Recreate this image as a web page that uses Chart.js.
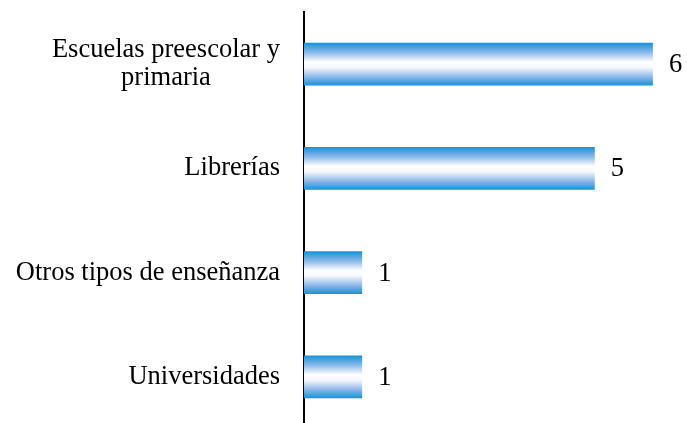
<!DOCTYPE html>
<html lang="es">
<head>
<meta charset="UTF-8">
<title>Establecimientos</title>
<style>
  body { margin: 0; background: #ffffff; overflow: hidden; }
  .frame { position: relative; width: 687px; height: 432px; }
</style>
</head>
<body>
<div class="frame">
  <canvas id="barChart"></canvas>
</div>
<script src="https://cdn.jsdelivr.net/npm/chart.js"></script>
<script>
  var categories = [['Escuelas preescolar y', 'primaria'], 'Librerías', 'Otros tipos de enseñanza', 'Universidades'];
  var values = [6, 5, 1, 1];

  var labelFont = '26.5px "Liberation Serif", "Times New Roman", serif';

  // vertical blue-white-blue fade for each bar
  function barFill(context) {
    var chart = context.chart;
    if (!chart.chartArea || !chart.scales.y) return '#1590d8';
    var yScale = chart.scales.y;
    var center = yScale.getPixelForValue(context.dataIndex);
    var half = 21.5;
    var g = chart.ctx.createLinearGradient(0, center - half, 0, center + half);
    g.addColorStop(0, '#1590d8');
    g.addColorStop(0.22, '#86b6e8');
    g.addColorStop(0.45, '#ffffff');
    g.addColorStop(0.58, '#f4f7fd');
    g.addColorStop(0.8, '#8cb7e8');
    g.addColorStop(1, '#1590d8');
    return g;
  }

  var labelPlugin = {
    id: 'labelPlugin',
    afterDraw: function(chart) {
      var ctx = chart.ctx;
      var yScale = chart.scales.y;
      var meta = chart.getDatasetMeta(0);
      ctx.save();
      ctx.font = labelFont;
      ctx.fillStyle = '#000000';
      ctx.textBaseline = 'middle';
      var rightEdge = 280;
      var lineHeight = 28;
      categories.forEach(function(cat, i) {
        var y = yScale.getPixelForValue(i);
        var lines = Array.isArray(cat) ? cat : [cat];
        var widest = 0;
        lines.forEach(function(l) { widest = Math.max(widest, ctx.measureText(l).width); });
        var cx = rightEdge - widest / 2;
        ctx.textAlign = 'center';
        lines.forEach(function(l, k) {
          var ly = y + (k - (lines.length - 1) / 2) * lineHeight;
          ctx.fillText(l, cx, ly);
        });
      });
      ctx.textAlign = 'left';
      meta.data.forEach(function(bar, i) {
        ctx.fillText(String(values[i]), bar.x + 16, bar.y + 1);
      });
      ctx.restore();
    }
  };

  var ctx = document.getElementById('barChart').getContext('2d');
  new Chart(ctx, {
    type: 'bar',
    data: {
      labels: categories,
      datasets: [{
        data: values,
        backgroundColor: barFill,
        borderWidth: 0,
        barPercentage: 0.41,
        categoryPercentage: 1
      }]
    },
    options: {
      indexAxis: 'y',
      responsive: true,
      maintainAspectRatio: false,
      animation: false,
      layout: { padding: { top: 12, bottom: 3, right: 5, left: 0 } },
      scales: {
        x: {
          display: false,
          min: 0,
          max: 6.5
        },
        y: {
          grid: { display: false, drawTicks: false },
          border: { display: true, color: '#000000', width: 2 },
          ticks: { display: false },
          afterFit: function(scale) { scale.width = 304; }
        }
      },
      plugins: {
        legend: { display: false },
        tooltip: { enabled: false }
      }
    },
    plugins: [labelPlugin]
  });
</script>
</body>
</html>
